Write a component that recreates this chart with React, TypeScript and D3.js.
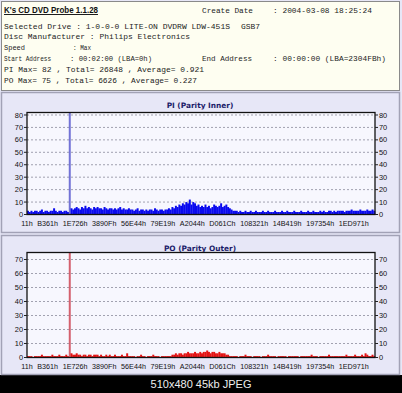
import React, { useEffect, useRef } from "react";
import * as d3 from "d3";

// x axis labels (LBA, hex)
const xLabels = [
  "11h", "B361h", "1E726h", "3890Fh", "56E44h", "79E19h",
  "A2044h", "D061Ch", "108321h", "14B419h", "197354h", "1ED971h",
];

const piTicks = [0, 10, 20, 30, 40, 50, 60, 70, 80];
const poTicks = [0, 10, 20, 30, 40, 50, 60, 70];
const piMax = 82;
const poMax = 75;

// PI error counts per sample
const piValues = [
  3, 2, 3, 2, 3, 3, 2, 3, 4, 2, 3, 3, 2, 3, 3, 5, 3, 2, 3, 3,
  2, 3, 3, 2, 82, 5, 4, 5, 6, 5, 4, 6, 5, 7, 5, 6, 5, 4, 6, 5,
  6, 5, 5, 4, 6, 5, 4, 5, 5, 4, 5, 4, 5, 6, 4, 5, 4, 4, 5, 4,
  4, 3, 4, 5, 3, 4, 4, 3, 4, 3, 4, 4, 3, 5, 4, 3, 4, 4, 3, 4,
  4, 5, 4, 6, 5, 7, 6, 8, 7, 9, 8, 10, 9, 12, 8, 10, 9, 7, 8, 6,
  7, 6, 8, 6, 7, 5, 6, 8, 7, 6, 7, 9, 6, 7, 8, 6, 5, 4, 3, 3,
  3, 2, 3, 2, 2, 3, 2, 2, 3, 2, 2, 3, 2, 2, 2, 3, 2, 2, 3, 2,
  2, 2, 3, 2, 2, 2, 3, 2, 2, 3, 2, 2, 2, 3, 2, 2, 2, 3, 2, 2,
  2, 3, 2, 2, 3, 2, 2, 2, 3, 2, 3, 2, 2, 3, 3, 2, 3, 2, 3, 3,
  3, 3, 2, 3, 3, 3, 4, 3, 3, 3, 3, 4, 3, 3, 3, 4, 3, 3, 4, 3,
];

// PO error counts per sample
const poValues = [
  1, 1, 1, 0, 1, 1, 1, 1, 2, 1, 1, 1, 1, 1, 2, 1, 1, 1, 2, 1,
  1, 1, 2, 1, 75, 3, 2, 2, 3, 2, 2, 1, 2, 2, 1, 2, 2, 1, 2, 2,
  2, 1, 2, 1, 1, 2, 1, 2, 1, 1, 2, 1, 1, 1, 2, 1, 1, 3, 1, 1,
  1, 1, 0, 1, 1, 2, 1, 1, 0, 1, 1, 1, 2, 1, 1, 1, 0, 1, 1, 1,
  1, 1, 1, 2, 2, 3, 2, 3, 3, 2, 3, 3, 4, 3, 3, 3, 4, 3, 3, 4,
  3, 4, 4, 5, 4, 3, 4, 4, 3, 3, 4, 3, 3, 3, 2, 2, 1, 1, 1, 1,
  1, 0, 1, 1, 1, 2, 1, 1, 1, 0, 1, 1, 1, 1, 0, 1, 1, 1, 2, 1,
  1, 1, 1, 0, 1, 1, 1, 1, 1, 0, 1, 1, 1, 1, 1, 1, 0, 1, 1, 1,
  1, 1, 1, 2, 1, 1, 1, 0, 1, 1, 1, 1, 1, 2, 1, 1, 1, 1, 1, 1,
  1, 1, 1, 2, 1, 1, 1, 1, 2, 1, 1, 1, 2, 1, 3, 2, 1, 1, 2, 1,
];

const W = 402;
const H = 393;
const plotLeft = 27;
const plotRight = 375;

interface ChartSpec {
  title: string;
  values: number[];
  yMax: number;
  ticks: number[];
  top: number; // panel top
  plotTop: number;
  plotBottom: number;
  barColor: string;
  spikeColor: string;
}

const charts: ChartSpec[] = [
  {
    title: "PI (Parity Inner)",
    values: piValues,
    yMax: piMax,
    ticks: piTicks,
    top: 93,
    plotTop: 112.5,
    plotBottom: 214.5,
    barColor: "#0a0aee",
    spikeColor: "#7272d6",
  },
  {
    title: "PO (Parity Outer)",
    values: poValues,
    yMax: poMax,
    ticks: poTicks,
    top: 236,
    plotTop: 252.5,
    plotBottom: 357.5,
    barColor: "#e41414",
    spikeColor: "#d4606e",
  },
];

const mono = "'Liberation Mono', 'Courier New', monospace";
const sans = "'Liberation Sans', Arial, sans-serif";

const App: React.FC = () => {
  const svgRef = useRef<SVGSVGElement>(null);

  useEffect(() => {
    if (!svgRef.current) return;
    const svg = d3.select(svgRef.current);
    svg.selectAll("*").remove();

    // page background + frame
    svg.append("rect").attr("width", W).attr("height", H).attr("fill", "#e7e7f7");
    svg.append("rect").attr("x", 0).attr("y", 375).attr("width", W).attr("height", 18).attr("fill", "#000");
    svg.append("text")
      .attr("x", 201).attr("y", 388)
      .attr("text-anchor", "middle")
      .attr("fill", "#eeeeee")
      .style("font-family", sans)
      .style("font-size", "11px")
      .text("510x480 45kb JPEG");

    // header panel
    svg.append("rect")
      .attr("x", 1.5).attr("y", 1.5).attr("width", 398).attr("height", 89)
      .attr("fill", "#fefef1").attr("stroke", "#8a8a8a");

    svg.append("text")
      .attr("x", 4).attr("y", 13)
      .attr("textLength", 94).attr("lengthAdjust", "spacingAndGlyphs")
      .attr("fill", "#111")
      .style("font-family", sans).style("font-size", "9.5px").style("font-weight", "bold")
      .style("text-decoration", "underline")
      .text("K's CD DVD Probe 1.1.28");

    const header: [string, number, number, number][] = [
      ["Create Date", 202, 253, 12.5],
      [": 2004-03-08 18:25:24", 273, 372, 12.5],
      ["Selected Drive : 1-0-0-0 LITE-ON DVDRW LDW-451S", 4, 230, 28.5],
      ["GSB7", 241, 260, 28.5],
      ["Disc Manufacturer : Philips Electronics", 4, 190, 39.3],
      ["Speed", 4, 25, 50.1],
      [": Max", 73, 91, 50.1],
      ["Start Address", 4, 51, 60.9],
      [": 00:02:00 (LBA=0h)", 70, 152, 60.9],
      ["End Address", 202, 252, 60.9],
      [": 00:00:00 (LBA=2304FBh)", 273, 386, 60.9],
      ["PI Max= 82 , Total= 26848 , Average= 0.921", 4, 204, 71.7],
      ["PO Max= 75 , Total= 6626 , Average= 0.227", 4, 197, 82.5],
    ];
    header.forEach(([t, x0, x1, y]) => {
      svg.append("text")
        .attr("x", x0).attr("y", y)
        .attr("textLength", x1 - x0).attr("lengthAdjust", "spacingAndGlyphs")
        .attr("fill", "#1c1c1c")
        .style("font-family", mono).style("font-size", "8px")
        .text(t);
    });

    charts.forEach((c) => {
      const panelBottom = c.top === 93 ? 233 : 375;
      svg.append("rect")
        .attr("x", 1.5).attr("y", c.top - 0.5).attr("width", 398).attr("height", panelBottom - c.top)
        .attr("fill", "#e7e7f7").attr("stroke", "#a2a2b6").attr("stroke-width", 1.5);

      svg.append("text")
        .attr("x", 200).attr("y", c.top + 15)
        .attr("text-anchor", "middle")
        .attr("fill", "#1c1c6a")
        .style("font-family", "'DejaVu Sans', Verdana, sans-serif")
        .style("font-size", "7.4px").style("font-weight", "bold")
        .text(c.title);

      const x = d3.scaleBand<number>()
        .domain(d3.range(c.values.length))
        .range([plotLeft, plotRight]);
      const y = d3.scaleLinear().domain([0, c.yMax]).range([c.plotBottom, c.plotTop]);

      const g = svg.append("g");

      g.append("rect")
        .attr("x", plotLeft).attr("y", c.plotTop)
        .attr("width", plotRight - plotLeft).attr("height", c.plotBottom - c.plotTop)
        .attr("fill", "#f7f7fe");

      // dashed grid
      g.selectAll(".grid")
        .data(c.ticks.filter((t) => t > 0))
        .join("line")
        .attr("x1", plotLeft).attr("x2", plotRight)
        .attr("y1", (d) => y(d)).attr("y2", (d) => y(d))
        .attr("stroke", "#8c8c9c").attr("stroke-width", 0.8)
        .attr("stroke-dasharray", "2,2");

      // bars
      g.selectAll(".bar")
        .data(c.values)
        .join("rect")
        .attr("x", (_, i) => x(i)!)
        .attr("width", x.bandwidth() + 0.25)
        .attr("y", (d) => y(Math.min(d, c.yMax)))
        .attr("height", (d) => c.plotBottom - y(Math.min(d, c.yMax)))
        .attr("fill", (d) => (d > c.yMax / 2 ? c.spikeColor : c.barColor));

      // frame
      g.append("rect")
        .attr("x", plotLeft).attr("y", c.plotTop)
        .attr("width", plotRight - plotLeft).attr("height", c.plotBottom - c.plotTop)
        .attr("fill", "none").attr("stroke", "#111").attr("stroke-width", 1.3);

      // y ticks + labels both sides
      c.ticks.forEach((t) => {
        const yy = y(t);
        g.append("line").attr("x1", plotLeft - 3).attr("x2", plotLeft).attr("y1", yy).attr("y2", yy).attr("stroke", "#222");
        g.append("line").attr("x1", plotRight).attr("x2", plotRight + 3).attr("y1", yy).attr("y2", yy).attr("stroke", "#222");
        g.append("text")
          .attr("x", plotLeft - 4).attr("y", yy + 2.6)
          .attr("text-anchor", "end").attr("fill", "#111")
          .style("font-family", sans).style("font-size", "7.4px")
          .text(t);
        g.append("text")
          .attr("x", plotRight + 4).attr("y", yy + 2.6)
          .attr("fill", "#111")
          .style("font-family", sans).style("font-size", "7.4px")
          .text(t);
      });

      // x labels, laid out one after another
      let cursor = 0;
      xLabels.forEach((lab, i) => {
        const txt = g.append("text")
          .attr("y", c.plotBottom + 11.5)
          .attr("fill", "#111")
          .style("font-family", sans).style("font-size", "7.2px")
          .text(lab);
        const len = (txt.node() as SVGTextElement).getComputedTextLength();
        if (i === 0) cursor = plotLeft - len / 2;
        txt.attr("x", cursor);
        cursor += len + 4.6;
      });
    });
  }, []);

  return (
    <div style={{ position: "absolute", left: 0, top: 0 }}>
      <svg ref={svgRef} width={W} height={H} style={{ display: "block" }}></svg>
    </div>
  );
};

export default App;
